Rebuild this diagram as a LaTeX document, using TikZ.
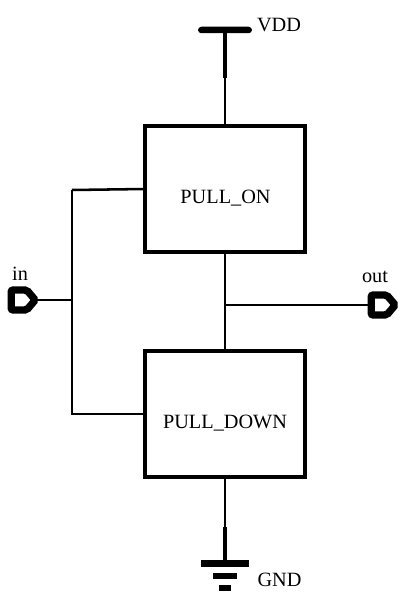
\documentclass[tikz,border=0pt]{standalone}
\usepackage{fontspec}
\setmainfont{Liberation Serif}
\usetikzlibrary{shapes.symbols}

\begin{document}
\begin{tikzpicture}[x=0.75pt,y=-0.75pt,font=\fontsize{15.2}{18}\selectfont,
  blockbox/.style={draw,line width=3pt,minimum width=160*0.75pt,minimum height=126*0.75pt,inner sep=0pt,outer sep=0pt},
  pinbox/.style={draw,line width=5.5pt,signal,signal to=east,signal from=nowhere,signal pointer angle=100,rounded corners=1.5pt,minimum width=24*0.75pt,minimum height=20*0.75pt,inner sep=0pt,outer sep=0pt},
  railbar/.style={fill=black,inner sep=0pt,outer sep=0pt},
  wire/.style={line width=1.9pt},
  stub/.style={line width=3.2pt}]
  \useasboundingbox (0,0) rectangle (416,616);
  \node[blockbox] (pullon) at (225,189) {};
  \node[blockbox] (pulldown) at (225,414) {};
  \node (pullontext) at (225.5,198) {PULL\_ON};
  \node (pulldowntext) at (225,423) {PULL\_DOWN};
  \node[railbar,rounded corners=2.5pt,minimum width=54*0.75pt,minimum height=6.5*0.75pt] (vddbar) at (225,30) {};
  \node[railbar,minimum width=48*0.75pt,minimum height=7*0.75pt] (gndbar) at (225,563.5) {};
  \node[railbar,minimum width=24*0.75pt,minimum height=6*0.75pt] (gndmid) at (225,576) {};
  \node[railbar,minimum width=12*0.75pt,minimum height=6*0.75pt] (gndlow) at (225,587.5) {};
  \node[pinbox] (inpin) at (19,300) {};
  \node[pinbox] (outpin) at (379,305) {};
  \node (vddlabel) at (279,25) {VDD};
  \node (gndlabel) at (279.5,580) {GND};
  \node (inlabel) at (20,274) {in};
  \node (outlabel) at (375,277) {out};
  \coordinate (vddstub) at (225,78);
  \coordinate (gndstub) at (225,527);
  \coordinate (intop) at (72,190);
  \coordinate (inmid) at (72,300);
  \coordinate (inlow) at (72,414);
  \coordinate (outtap) at (225,305);
  \draw[stub] (vddbar) -- (vddstub);
  \draw[wire] (vddstub) -- (pullon.north);
  \draw[wire] (pullon.south) -- (pulldown.north);
  \draw[wire] (pulldown.south) -- (gndstub);
  \draw[stub] (gndstub) -- (gndbar);
  \draw[wire] (intop) -- (pullon.west);
  \draw[wire] (intop) -- (inlow) -- (pulldown.west);
  \draw[wire] (inpin.east) -- (inmid);
  \draw[wire] (outtap) -- (outpin.west);
\end{tikzpicture}
\end{document}
